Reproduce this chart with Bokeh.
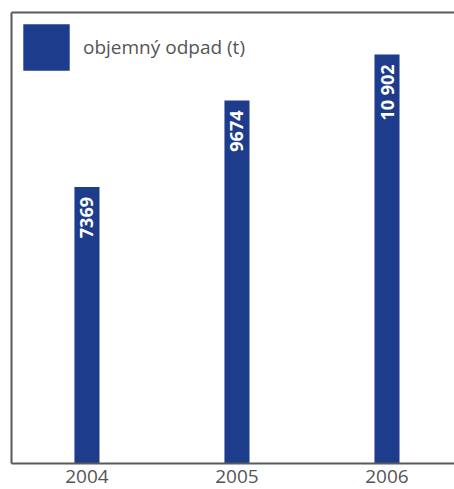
from bokeh.plotting import figure
from bokeh.models import (ColumnDataSource, Range1d, FixedTicker, LinearAxis,
                          Legend, LegendItem)
from bokeh.core.properties import value
from bokeh.embed import file_html
from bokeh.resources import INLINE
import math

# ---- data ----
years = ["2004", "2005", "2006"]
values = [7369, 9674, 10902]
value_labels = ["7369", "9674", "10 902"]
series_name = "objemný odpad (t)"

BLUE = "#1e3c8c"
GREY = "#5a5a5a"
TXT = "#555555"
FONT = "Open Sans"

xs = list(range(len(years)))
src = ColumnDataSource(dict(x=xs, top=values, lab=value_labels))

p = figure(width=454, height=489, output_backend="svg", toolbar_location=None,
           x_range=Range1d(-0.503, 2.45), y_range=Range1d(0, 12020),
           min_border_left=11, min_border_right=0, min_border_top=12,
           min_border_bottom=26)
p.outline_line_color = None
p.grid.visible = False
p.background_fill_color = "white"
p.border_fill_color = "white"

r = p.vbar(x="x", top="top", width=0.167, bottom=0, source=src,
           fill_color=BLUE, line_color=None)

p.text(x="x", y="top", text="lab", source=src, angle=math.pi / 2,
       text_align="right", text_baseline="middle", y_offset=10,
       text_color="white", text_font=value(FONT), text_font_style="bold",
       text_font_size="18px")

# axes
xa = p.xaxis[0]
xa.ticker = FixedTicker(ticks=xs)
xa.major_label_overrides = {i: y for i, y in zip(xs, years)}
xa.major_tick_line_color = None
xa.minor_tick_line_color = None
xa.major_tick_out = 0
xa.major_tick_in = 0
xa.major_label_standoff = 6
xa.axis_line_color = GREY
xa.axis_line_width = 2
xa.major_label_text_font = FONT
xa.major_label_text_font_size = "19px"
xa.major_label_text_color = TXT

ya = p.yaxis[0]
ya.ticker = FixedTicker(ticks=[])
ya.major_tick_line_color = None
ya.minor_tick_line_color = None
ya.major_tick_out = 0
ya.major_tick_in = 0
ya.major_label_standoff = 0
ya.axis_line_color = GREY
ya.axis_line_width = 2

top_axis = LinearAxis(ticker=FixedTicker(ticks=[]), major_tick_line_color=None,
                      minor_tick_line_color=None, major_tick_out=0, major_tick_in=0,
                      major_label_standoff=0, axis_line_color=GREY, axis_line_width=2)
p.add_layout(top_axis, "above")

legend = Legend(items=[LegendItem(label=series_name, renderers=[r])],
                location="top_left", margin=6, padding=0, glyph_width=58,
                glyph_height=58, label_standoff=8, border_line_color=None,
                background_fill_alpha=0, label_text_font=FONT,
                label_text_font_size="19px", label_text_color=TXT)
p.add_layout(legend, "center")

open("out.html", "w").write(file_html(p, INLINE))
